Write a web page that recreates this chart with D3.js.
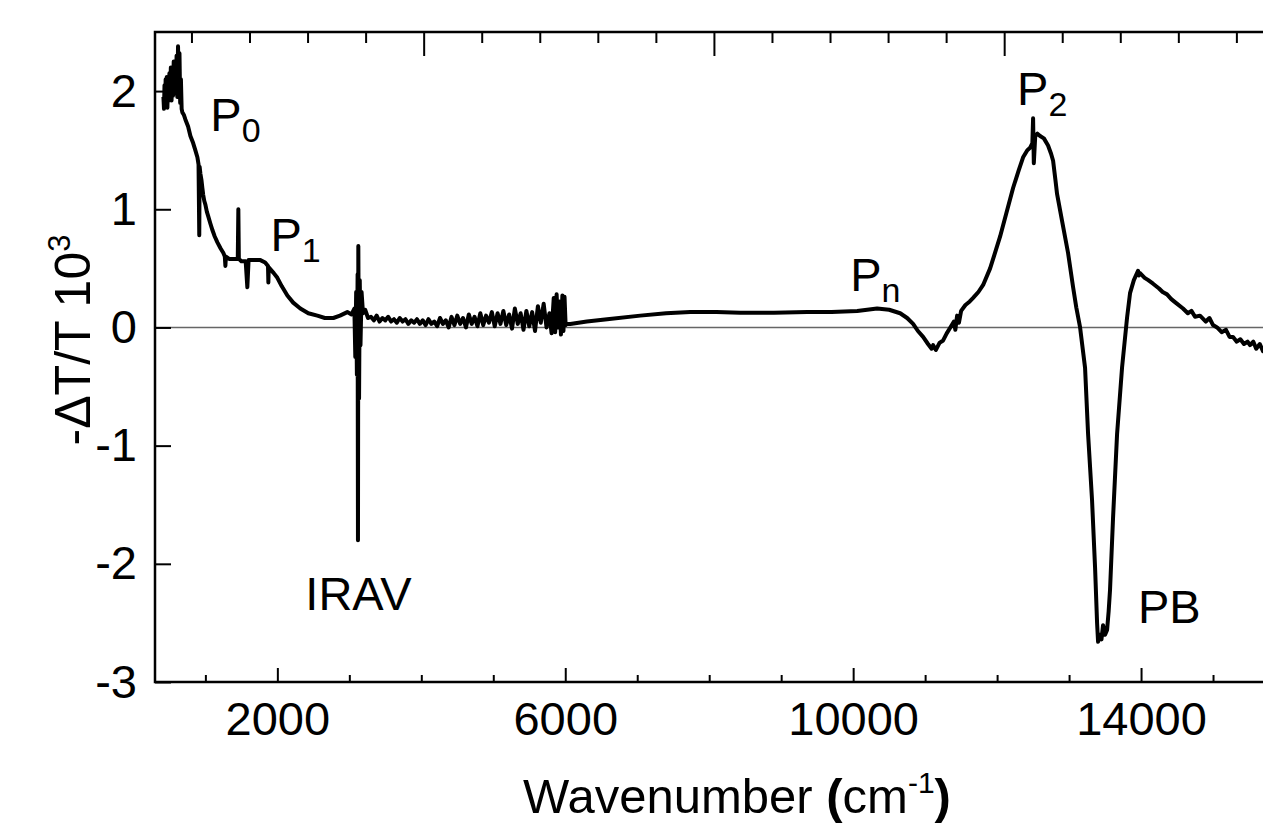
<html>
<head>
<meta charset="utf-8">
<title>Photoinduced absorption spectrum</title>
<script src="https://cdn.jsdelivr.net/npm/d3@7"></script>
<style>
body{margin:0;background:#fff}
text{font-family:"Liberation Sans",Arial,sans-serif;fill:#000}
</style>
</head>
<body>
<svg width="1263" height="826"></svg>
<script>
// spectrum: wavenumber (cm-1) and -dT/T x10^3
var wavenumber = [
  417,425,432,440,448,456,464,472,480,490,500,510,520,530,540,550,560,570,580,590,600,610,620,630,640,650,660,670,680,
  700,722,760,792,830,860,889,905,915,920,931,945,958,970,985,1000,1020,1040,1069,1100,1130,1167,1210,1250,1270,1278,1285,
  1330,1389,1450,1458,1465,1500,1560,1583,1600,1625,1700,1764,1830,1870,1875,1880,1950,2000,2060,2139,2220,2319,2430,2556,
  2660,2778,2870,2972,3030,3070,3083,3095,3105,3115,3120,3125,3135,3145,3155,3170,3190,3220,3260,
  3300,3340,3380,3420,3460,3500,3540,3580,3620,3660,3700,3740,3780,3820,3860,3900,3940,3980,4020,4060,4100,4140,4180,4220,
  4260,4300,4340,4380,4420,4460,4500,4540,4580,4620,4660,4700,4740,4780,4820,4860,4900,4940,4980,5020,5060,5100,5140,5180,
  5220,5260,5300,5340,5380,5420,5460,5500,5540,5580,5620,5660,5700,5740,5780,5810,5840,5860,5880,5900,5920,5940,5960,5975,
  5990,6005,6020,
  6069,6300,6583,7042,7400,7736,8100,8431,8900,9361,9700,10056,10333,10500,10653,10750,10833,10900,10972,11040,11090,11111,
  11150,11200,11250,11300,11350,11400,11420,11444,11470,11500,11560,11620,11667,11740,11806,11903,11960,12042,12130,12222,
  12300,12361,12420,12458,12490,12500,12510,12530,12560,12597,12650,12708,12750,12778,12810,12833,12903,12986,13056,13100,
  13153,13222,13264,13319,13361,13389,13403,13430,13450,13472,13500,13528,13550,13569,13611,13667,13736,13806,13847,13900,
  13958,13970,13986,14050,14100,14167,14250,14300,14361,14420,14480,14583,14650,14700,14750,14819,14900,14950,15000,15056,
  15120,15180,15230,15278,15330,15380,15430,15480,15514,15560,15600,15650,15694,15750
];
var signal = [
  1.95,1.85,2.05,1.88,2.10,1.90,2.12,1.86,2.05,1.92,2.15,1.95,2.20,1.92,2.18,1.96,2.25,1.98,2.22,2.00,2.30,1.95,2.38,2.00,2.32,1.90,2.10,1.85,1.82,
  1.80,1.76,1.70,1.62,1.56,1.50,1.44,1.38,0.78,1.36,1.30,1.25,1.18,1.12,1.07,1.04,0.98,0.94,0.88,0.82,0.77,0.72,0.67,0.63,0.60,0.52,0.60,
  0.58,0.58,0.58,1.00,0.58,0.56,0.56,0.34,0.57,0.57,0.57,0.57,0.55,0.52,0.38,0.51,0.46,0.42,0.35,0.27,0.21,0.16,0.12,0.10,
  0.08,0.08,0.10,0.13,0.11,0.16,-0.25,0.30,-0.40,0.45,-1.80,0.69,-0.60,0.40,-0.15,0.30,0.12,0.15,0.08,
  0.09,0.06,0.10,0.05,0.08,0.06,0.09,0.05,0.07,0.04,0.08,0.05,0.07,0.03,0.06,0.04,0.07,0.03,0.06,0.02,0.07,0.03,0.05,0.01,
  0.08,0.03,0.06,0.00,0.09,0.02,0.10,0.03,0.08,0.00,0.11,0.03,0.09,0.01,0.12,0.02,0.10,0.04,0.13,0.01,0.12,0.03,0.14,0.02,
  0.11,-0.01,0.16,0.03,0.12,-0.02,0.14,0.01,0.13,-0.03,0.18,0.04,0.20,0.00,0.12,-0.05,0.25,-0.04,0.28,0.00,0.22,-0.06,0.27,-0.03,
  0.26,0.02,0.03,
  0.03,0.05,0.07,0.10,0.12,0.13,0.13,0.125,0.125,0.13,0.13,0.14,0.16,0.15,0.12,0.08,0.03,-0.03,-0.08,-0.14,-0.18,-0.15,
  -0.19,-0.13,-0.11,-0.05,0.00,0.05,-0.02,0.10,0.04,0.14,0.19,0.22,0.25,0.30,0.36,0.50,0.61,0.77,0.97,1.18,
  1.33,1.44,1.50,1.52,1.56,1.77,1.39,1.62,1.64,1.62,1.60,1.54,1.47,1.41,1.25,1.13,0.90,0.63,0.34,0.17,
  0.00,-0.34,-0.90,-1.46,-2.03,-2.50,-2.66,-2.60,-2.64,-2.52,-2.60,-2.56,-2.40,-2.22,-1.61,-0.90,-0.34,0.085,0.29,0.40,
  0.48,0.44,0.46,0.42,0.40,0.37,0.33,0.30,0.28,0.24,0.21,0.16,0.12,0.14,0.09,0.10,0.05,0.08,0.02,0.00,
  -0.04,-0.02,-0.08,-0.08,-0.12,-0.10,-0.14,-0.12,-0.15,-0.12,-0.18,-0.14,-0.20,-0.17
];

var xMajorTicks = [2000, 6000, 10000, 14000];
var xMinorTicks = [1000, 3000, 4000, 5000, 7000, 8000, 9000, 11000, 12000, 13000, 15000];
var yTicks = [-3, -2, -1, 0, 1, 2];
var eVMajorTicks = [0.5, 1.0, 1.5];
var eVMinorTicks = [0.1, 0.2, 0.3, 0.4, 0.6, 0.7, 0.8, 0.9, 1.1, 1.2, 1.3, 1.4, 1.6, 1.7, 1.8, 1.9];

var peakNames = ["P", "P", "IRAV", "P", "P", "PB"];
var peakSubs = ["0", "1", "", "n", "2", ""];
var peakX = [1069, 1903, 2389, 9958, 12278, 13958];
var peakY = [1.66, 0.65, -2.39, 0.31, 1.88, -2.50];

var svg = d3.select("svg"),
    plotL = 155, plotT = 32, plotB = 682, plotR = 1285;

var x = d3.scaleLinear().domain([300, 16000]).range([plotL, plotR]);
var eV = d3.scaleLinear().domain([300 / 8065.54, 16000 / 8065.54]).range([plotL, plotR]);
var y = d3.scaleLinear().domain([-3, 2.5]).range([plotB, plotT]);

svg.append("defs").append("clipPath").attr("id", "plot")
  .append("rect").attr("x", plotL).attr("y", plotT).attr("width", plotR - plotL).attr("height", plotB - plotT);

// zero line
svg.append("line")
  .attr("x1", plotL).attr("x2", plotR)
  .attr("y1", y(0)).attr("y2", y(0))
  .attr("stroke", "#666").attr("stroke-width", 1.5);

var data = wavenumber.map((d, i) => ({w: d, v: signal[i]}));
var line = d3.line().x(d => x(d.w)).y(d => y(d.v));

svg.append("path")
  .datum(data)
  .attr("clip-path", "url(#plot)")
  .attr("d", line)
  .attr("fill", "none")
  .attr("stroke", "#000")
  .attr("stroke-width", 4)
  .attr("stroke-linejoin", "round");

function styleAxis(g) {
  g.select(".domain").remove();
  g.selectAll(".tick line").attr("stroke", "#000").attr("stroke-width", 2);
  g.selectAll(".tick text").style("font-size", "47px").attr("fill", "#000");
}

// bottom
svg.append("g").attr("transform", `translate(0,${plotB})`)
  .call(d3.axisBottom(x).tickValues(xMinorTicks).tickSize(-7).tickFormat(""))
  .call(styleAxis);
svg.append("g").attr("transform", `translate(0,${plotB})`)
  .call(d3.axisBottom(x).tickValues(xMajorTicks).tickSizeInner(-14).tickSizeOuter(0).tickPadding(20).tickFormat(d => String(d)))
  .call(styleAxis);

// top (eV)
svg.append("g").attr("transform", `translate(0,${plotT})`)
  .call(d3.axisTop(eV).tickValues(eVMinorTicks).tickSize(-11).tickFormat(""))
  .call(styleAxis);
svg.append("g").attr("transform", `translate(0,${plotT})`)
  .call(d3.axisTop(eV).tickValues(eVMajorTicks).tickSize(-24).tickFormat(""))
  .call(styleAxis);

// left
svg.append("g").attr("transform", `translate(${plotL},0)`)
  .call(d3.axisLeft(y).tickValues(yTicks).tickSizeInner(-16).tickSizeOuter(0).tickPadding(18).tickFormat(d => String(d)))
  .call(styleAxis);

// frame
svg.append("path")
  .attr("d", `M${plotR},${plotT}H${plotL}V${plotB}H${plotR}`)
  .attr("fill", "none").attr("stroke", "#000").attr("stroke-width", 2.5);

// peak labels
peakNames.forEach(function(n, i) {
  var t = svg.append("text")
    .attr("x", x(peakX[i])).attr("y", y(peakY[i]))
    .style("font-size", "47px");
  t.append("tspan").text(n);
  if (peakSubs[i]) {
    t.append("tspan").attr("dy", 11).style("font-size", "34px").text(peakSubs[i]);
  }
});

// axis titles
var xt = svg.append("text")
  .attr("x", 737).attr("y", 813)
  .attr("text-anchor", "middle")
  .style("font-size", "49px");
xt.append("tspan").text("Wavenumber ");
xt.append("tspan").style("font-weight", "bold").text("(");
xt.append("tspan").text("cm");
xt.append("tspan").attr("dy", -20).style("font-size", "30px").text("-1");
xt.append("tspan").attr("dy", 20).style("font-weight", "bold").text(")");

var yt = svg.append("text")
  .attr("transform", "translate(90,340) rotate(-90)")
  .attr("text-anchor", "middle")
  .style("font-size", "50px");
yt.append("tspan").text("-\u0394T/T 10");
yt.append("tspan").attr("dy", -20).style("font-size", "31px").text("3");
</script>
</body>
</html>
